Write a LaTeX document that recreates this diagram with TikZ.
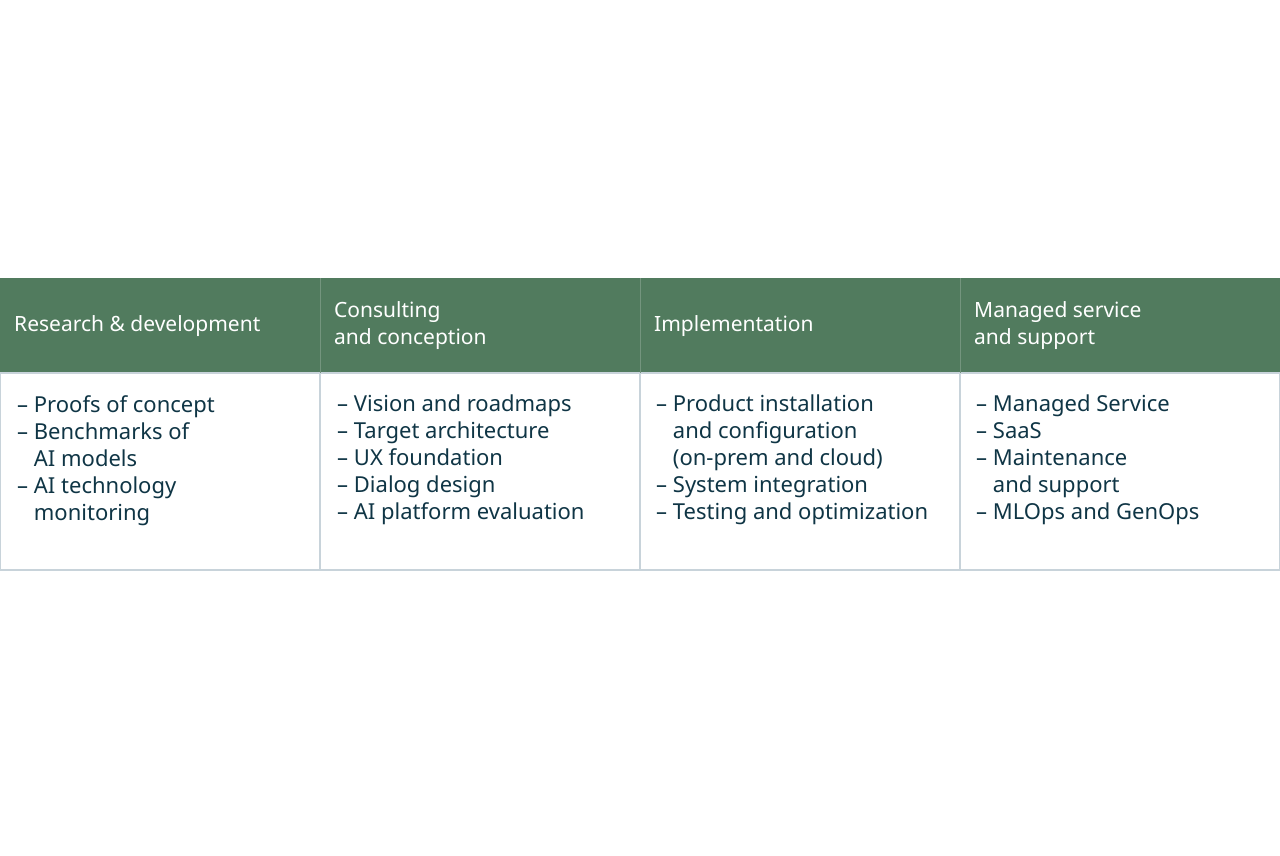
\documentclass[tikz,border=0pt]{standalone}
\usepackage{fontspec}
\setmainfont{Noto Sans}
\usetikzlibrary{positioning}
\definecolor{headgreen}{HTML}{517B5E}
\definecolor{bodyink}{HTML}{0F3545}
\definecolor{gridline}{HTML}{C8D3DA}
\newcommand{\cont}{\phantom{– }}
\begin{document}
\begin{tikzpicture}[x=1pt,y=-1pt,
    headtxt/.style={anchor=west, align=left, text=white, inner sep=0pt,
        font=\fontsize{21}{27}\selectfont\bfseries},
    bodytxt/.style={anchor=north west, align=left, text=bodyink, inner sep=0pt,
        font=\fontsize{22}{27}\selectfont}
]
\useasboundingbox (0,0) rectangle (1280,855);

% header band and body frame
\fill[headgreen] (0,278) rectangle (1280,373);
\draw[gridline, line width=1.2] (0.6,373) rectangle (1279.4,570);
\foreach \x in {320,640,960} {
    \draw[headgreen!80!white, line width=1] (\x,278) -- (\x,373);
    \draw[gridline, line width=1.2] (\x,373) -- (\x,570);
}

% headers
\node (research_head) [headtxt] at (14,326) {Research \& development};
\node (consulting_head) [headtxt] at (334,326) {Consulting\\and conception};
\node (implementation_head) [headtxt] at (654,326) {Implementation};
\node (managed_head) [headtxt] at (974,326) {Managed service\\and support};

% bodies
\node (research_body) [bodytxt] at (17,395)
{
    – Proofs of concept\\
    – Benchmarks of\\
    \cont AI models\\
    – AI technology\\
    \cont monitoring
};

\node (consulting_body) [bodytxt] at (337,395)
{
    – Vision and roadmaps\\
    – Target architecture\\
    – UX foundation\\
    – Dialog design\\
    – AI platform evaluation
};

\node (implementation_body) [bodytxt] at (656,395)
{
    – Product installation\\
    \cont and configuration\\
    \cont (on-prem and cloud)\\
    – System integration\\
    – Testing and optimization
};

\node (managed_body) [bodytxt] at (976,395)
{
    – Managed Service\\
    – SaaS\\
    – Maintenance\\
    \cont and support\\
    – MLOps and GenOps
};

\end{tikzpicture}
\end{document}
